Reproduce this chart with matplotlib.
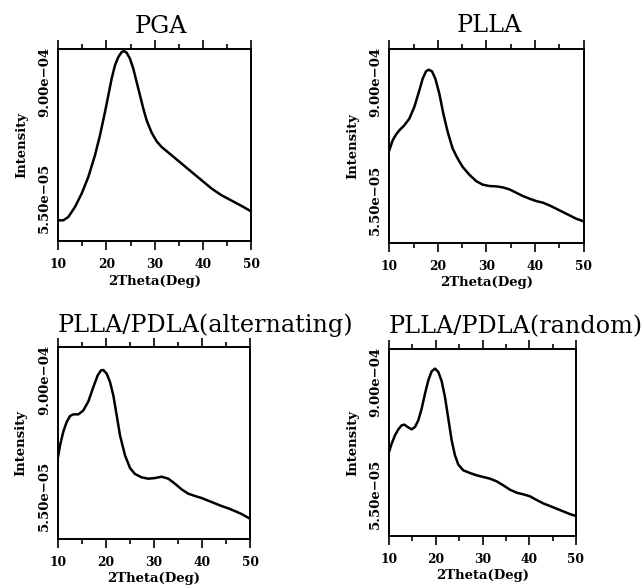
import matplotlib
matplotlib.use('Agg')
import matplotlib.pyplot as plt
import matplotlib.ticker as mticker

# 2Theta (deg) and intensity
theta_pga = [10, 11.04, 12.08, 13.46, 14.84, 16.23, 17.61, 18.65, 19.69, 20.38,
             21.07, 21.76, 22.46, 23.15, 23.63, 24.19, 24.88, 25.57, 26.26, 26.96,
             27.65, 28.34, 29.38, 30.42, 31.45, 33.53, 35.61, 37.68, 39.76, 41.83,
             43.91, 45.99, 48.06, 50]
int_pga = [3.23e-5, 3.23e-5, 3.50e-5, 4.45e-5, 6.13e-5, 9.15e-5, 1.541e-4, 2.49e-4,
           4.365e-4, 6.51e-4, 9.72e-4, 1.340e-3, 1.637e-3, 1.845e-3, 1.891e-3,
           1.816e-3, 1.572e-3, 1.237e-3, 8.98e-4, 6.51e-4, 4.73e-4, 3.57e-4,
           2.655e-4, 2.157e-4, 1.882e-4, 1.541e-4, 1.261e-4, 1.032e-4, 8.45e-5,
           6.92e-5, 5.89e-5, 5.18e-5, 4.56e-5, 4.01e-5]

theta_plla = [10, 10.69, 11.37, 12.06, 13.09, 14.12, 15.15, 16.19, 16.87, 17.56,
              18.11, 18.80, 19.48, 20.31, 21.13, 22.03, 23.06, 24.09, 25.12, 26.49,
              27.87, 29.24, 30.62, 31.99, 33.37, 34.74, 36.12, 37.49, 38.87, 40.24,
              41.62, 42.99, 44.36, 45.74, 47.11, 48.49, 50]
int_plla = [1.774e-4, 2.252e-4, 2.577e-4, 2.858e-4, 3.22e-4, 3.772e-4, 4.98e-4,
            7.41e-4, 9.78e-4, 1.166e-3, 1.212e-3, 1.166e-3, 9.78e-4, 6.84e-4,
            4.25e-4, 2.746e-4, 1.845e-4, 1.455e-4, 1.193e-4, 9.93e-5, 8.54e-5,
            7.83e-5, 7.58e-5, 7.52e-5, 7.34e-5, 7.00e-5, 6.47e-5, 5.98e-5, 5.61e-5,
            5.30e-5, 5.10e-5, 4.78e-5, 4.42e-5, 4.08e-5, 3.77e-5, 3.48e-5, 3.27e-5]

theta_alt = [10, 10.49, 11.18, 11.87, 12.56, 13.26, 14.30, 15.34, 16.38, 17.42,
             18.32, 19.01, 19.49, 20.19, 20.88, 21.57, 22.27, 22.96, 24.00, 25.04,
             26.08, 27.46, 28.85, 30.24, 31.62, 33.01, 34.39, 35.78, 37.17, 38.55,
             39.94, 41.32, 42.71, 44.10, 45.48, 46.87, 48.25, 50]
int_alt = [1.347e-4, 1.859e-4, 2.608e-4, 3.267e-4, 3.776e-4, 3.931e-4, 3.931e-4,
           4.33e-4, 5.38e-4, 7.61e-4, 1.009e-3, 1.138e-3, 1.147e-3, 1.050e-3,
           8.59e-4, 6.22e-4, 3.84e-4, 2.366e-4, 1.460e-4, 1.075e-4, 9.30e-5,
           8.58e-5, 8.31e-5, 8.44e-5, 8.72e-5, 8.31e-5, 7.36e-5, 6.42e-5, 5.78e-5,
           5.47e-5, 5.21e-5, 4.88e-5, 4.58e-5, 4.29e-5, 4.06e-5, 3.80e-5, 3.54e-5,
           3.16e-5]

theta_rand = [10, 10.57, 11.28, 12.00, 12.71, 13.28, 13.99, 14.85, 15.56, 16.27,
              16.98, 17.70, 18.41, 19.12, 19.84, 20.55, 21.26, 21.97, 22.69, 23.40,
              24.11, 24.83, 25.89, 27.32, 28.75, 30.17, 31.60, 33.02, 34.45, 35.87,
              37.30, 38.72, 40.15, 41.58, 43.00, 44.43, 45.85, 47.28, 48.70, 50]
int_rand = [1.567e-4, 1.926e-4, 2.368e-4, 2.749e-4, 3.036e-4, 3.086e-4, 2.912e-4,
            2.749e-4, 2.912e-4, 3.436e-4, 4.59e-4, 6.66e-4, 9.27e-4, 1.158e-3,
            1.238e-3, 1.140e-3, 9.10e-4, 6.13e-4, 3.58e-4, 2.092e-4, 1.442e-4,
            1.144e-4, 9.94e-5, 9.30e-5, 8.78e-5, 8.43e-5, 8.08e-5, 7.57e-5, 6.85e-5,
            6.15e-5, 5.71e-5, 5.48e-5, 5.22e-5, 4.76e-5, 4.38e-5, 4.10e-5, 3.84e-5,
            3.59e-5, 3.36e-5, 3.20e-5]

titles = ['PGA', 'PLLA', 'PLLA/PDLA(alternating)', 'PLLA/PDLA(random)']
ytick_values = [5.5e-5, 9.0e-4]
ytick_labels = ['5.50e\u221205', '9.00e\u221204']
xticks_major = [10, 20, 30, 40, 50]
xticks_minor = [15, 25, 35, 45]

plt.rcParams['font.family'] = 'DejaVu Serif'

W, H = 642, 588
# axes boxes in pixels: left, top, right, bottom
boxes = [(58.3, 48.7, 251.0, 241.3),
         (389.3, 48.7, 583.5, 243.0),
         (57.7, 347.0, 250.0, 538.7),
         (389.0, 349.3, 576.0, 536.0)]
# title anchor: x frac, baseline offset above top (px), alignment
title_place = [(0.53, 15.7, 'center'), (0.513, 17.0, 'center'),
               (0.0, 14.7, 'left'), (0.0, 16.0, 'left')]

series = [(theta_pga, int_pga), (theta_plla, int_plla),
          (theta_alt, int_alt), (theta_rand, int_rand)]


def main():
    fig = plt.figure(figsize=(W / 100, H / 100), dpi=100)

    for (x, y), box, title, tp in zip(series, boxes, titles, title_place):
        l, t, r, b = box
        w_px, h_px = r - l, b - t
        ax = fig.add_axes([l / W, (H - b) / H, w_px / W, h_px / H])
        ax.plot(x, y, color='black', lw=1.8, solid_joinstyle='round')

        ax.set_yscale('log')
        ax.set_xlim(10, 50)
        ax.set_ylim(1.95e-5, 2.0e-3)

        ax.set_xticks(xticks_major)
        ax.set_xticks(xticks_minor, minor=True)
        ax.set_xticklabels([str(v) for v in xticks_major],
                           fontsize=8.8, fontweight='bold')
        ax.set_yticks(ytick_values)
        ax.yaxis.set_minor_locator(mticker.NullLocator())
        ax.set_yticklabels(ytick_labels, rotation=90, va='center',
                           fontsize=9.5, fontweight='bold')

        ax.tick_params(axis='y', length=0, pad=5)
        ax.tick_params(axis='x', which='major', direction='out', length=6.7,
                       width=1.2, top=True, pad=5.5)
        ax.tick_params(axis='x', which='minor', direction='out', length=3.6,
                       width=1.2, top=True)
        for sp in ax.spines.values():
            sp.set_linewidth(1.4)

        ax.set_xlabel('2Theta(Deg)', fontsize=9.5, fontweight='bold', labelpad=2.5)
        ax.set_ylabel('Intensity', fontsize=9.5, fontweight='bold')
        ax.yaxis.set_label_coords(-36.6 / w_px, 0.5)
        ax.yaxis.label.set_verticalalignment('center')

        ax.text(tp[0], 1 + tp[1] / h_px, title, transform=ax.transAxes,
                ha=tp[2], va='baseline', fontsize=17.2)

    fig.savefig('out.png', dpi=100)


if __name__ == '__main__':
    main()
